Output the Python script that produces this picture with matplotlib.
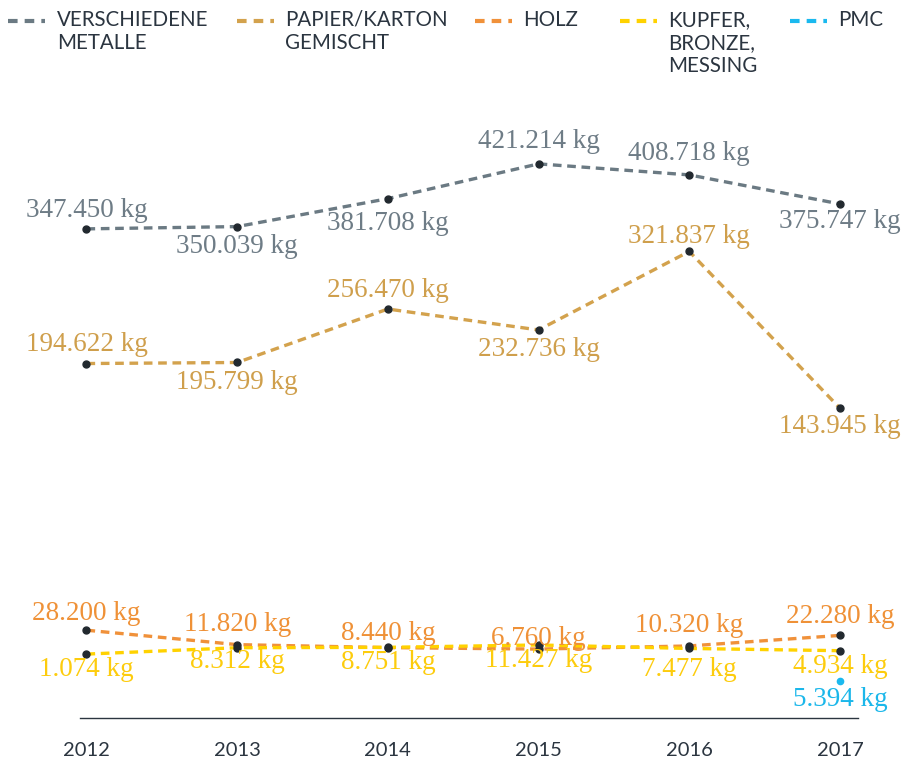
import matplotlib.pyplot as plt
from matplotlib.lines import Line2D

# data (kg per year)
years = [2012, 2013, 2014, 2015, 2016, 2017]
metalle = [347450, 350039, 381708, 421214, 408718, 375747]
papier = [194622, 195799, 256470, 232736, 321837, 143945]
holz = [28200, 11820, 8440, 6760, 10320, 22280]
kupfer = [1074, 8312, 8751, 11427, 7477, 4934]
pmc_years = [2017]
pmc = [5394]

legend_labels = ["VERSCHIEDENE\nMETALLE", "PAPIER/KARTON\nGEMISCHT", "HOLZ",
                 "KUPFER,\nBRONZE,\nMESSING", "PMC"]

# colours
c_met, t_met = "#6b7a83", "#6e7c86"
c_pap, t_pap = "#d3a24d", "#cf9f4c"
c_hol, t_hol = "#f0913a", "#ef9137"
c_kup, t_kup = "#ffd200", "#fdcc0d"
c_pmc, t_pmc = "#1ab9ef", "#1bb7ea"
dot = "#22292f"
dark = "#2b3540"

SANS = "Lato"
SERIF = "Liberation Serif"

W, H = 902, 762
fig = plt.figure(figsize=(W / 100, H / 100), dpi=100)


def px_axes(left, top, right, bottom):
    return fig.add_axes([left / W, 1 - bottom / H, (right - left) / W, (bottom - top) / H])


ax_top = px_axes(80, 129.7, 858, 446.9)
ax_low = px_axes(80, 600, 858, 718)
ax_pmc = ax_low.twinx()

ax_top.set_ylim(100000, 460000)
ax_low.set_ylim(-71500, 62500)
ax_pmc.set_ylim(-36600, 97330)

for ax in (ax_top, ax_low, ax_pmc):
    ax.set_xlim(2011.957, 2017.12)
    ax.patch.set_alpha(0)
    for s in ax.spines.values():
        s.set_visible(False)
    ax.set_yticks([])
    ax.tick_params(length=0)
ax_top.set_xticks([])
ax_pmc.set_xticks([])

ax_low.spines["bottom"].set_visible(True)
ax_low.spines["bottom"].set_color(dark)
ax_low.spines["bottom"].set_linewidth(1.0)
ax_low.set_xticks(years)
ax_low.set_xticklabels([str(y) for y in years], fontsize=14.5, color=dark, family=SANS)
ax_low.tick_params(axis="x", pad=17)


def fmt(v):
    return f"{v:,}".replace(",", ".") + " kg"


def series(ax, xs, vals, color, tcolor, offsets, mcolor=dot, ms=5):
    ax.plot(xs, vals, color=color, lw=2.4, dashes=(2.6, 1.7), zorder=2)
    ax.plot(xs, vals, ls="none", marker="o", ms=ms, color=mcolor, zorder=3)
    for x, v, dy in zip(xs, vals, offsets):
        ax.annotate(fmt(v), (x, v), xytext=(0, -dy * 0.72), textcoords="offset points",
                    ha="center", va="center", fontsize=19.5, color=tcolor,
                    family=SERIF, zorder=4, annotation_clip=False)


# label offsets in pixels (positive = below the point)
series(ax_top, years, metalle, c_met, t_met, [-18, 20, 25, -22, -21, 18])
series(ax_top, years, papier, c_pap, t_pap, [-19, 20, -19, 20, -15, 18])
series(ax_low, years, holz, c_hol, t_hol, [-17, -20, -14, -11, -20, -19])
series(ax_low, years, kupfer, c_kup, t_kup, [15, 14, 15, 16, 21, 16])
series(ax_pmc, pmc_years, pmc, c_pmc, t_pmc, [18], mcolor=c_pmc, ms=4.5)

# legend along the top
leg_colors = [c_met, c_pap, c_hol, c_kup, c_pmc]
leg_line_x = [8, 237, 475, 620, 790]
leg_text_x = [57, 285, 523, 668, 838]
for col, lx, tx, lab in zip(leg_colors, leg_line_x, leg_text_x, legend_labels):
    fig.add_artist(Line2D([lx / W, (lx + 37) / W], [1 - 21 / H, 1 - 21 / H],
                          transform=fig.transFigure, color=col, lw=3,
                          dashes=(2.3, 1.7)))
    fig.text(tx / W, 1 - 10 / H, lab, ha="left", va="top", fontsize=14.8,
             color=dark, family=SANS, linespacing=1.2)

fig.savefig("out.png", dpi=100)
